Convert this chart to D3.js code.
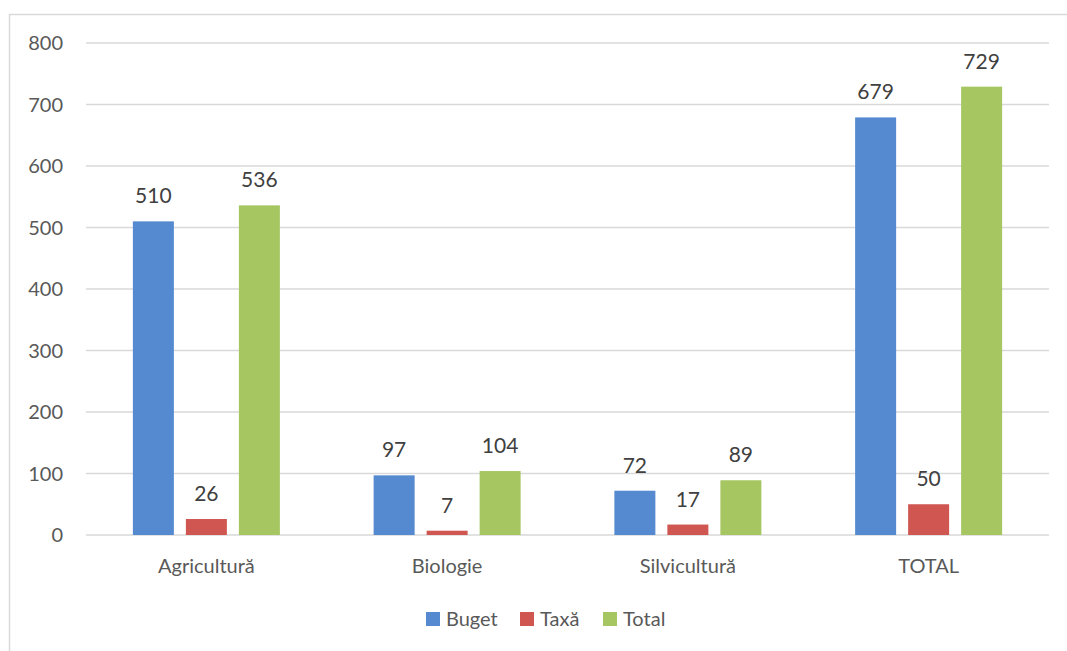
<!DOCTYPE html>
<html>
<head>
<meta charset="utf-8">
<script src="https://cdn.jsdelivr.net/npm/d3@7"></script>
<style>
  body { margin: 0; background: #fff; }
  text { font-family: Lato, "Open Sans", sans-serif; }
</style>
</head>
<body>
<script>
var categories = ["Agricultură", "Biologie", "Silvicultură", "TOTAL"];
var seriesNames = ["Buget", "Taxă", "Total"];
var buget = [510, 97, 72, 679];
var taxa = [26, 7, 17, 50];
var total = [536, 104, 89, 729];
var yTicks = [0, 100, 200, 300, 400, 500, 600, 700, 800];
var colors = ["#558ad0", "#d05652", "#a6c662"];

var svgWidth = 1067;
var svgHeight = 651;
var margin = {top: 43, left: 86, right: 18};
var plotBottom = 535;

var svg = d3.select("body")
  .append("svg")
  .attr("width", svgWidth)
  .attr("height", svgHeight);

// chart frame (top + left edges visible, rest cropped)
svg.append("path")
  .attr("d", "M9.5,660 L9.5,14.5 L1070,14.5")
  .attr("fill", "none")
  .attr("stroke", "#d9d9d9")
  .attr("stroke-width", 1.5);

var x0 = d3.scaleBand()
  .domain(categories)
  .range([margin.left, 1049])
  .padding(0);

var groupW = 147;
var x1 = d3.scaleBand()
  .domain(seriesNames)
  .range([0, groupW])
  .paddingInner(12 / 53);

var y = d3.scaleLinear()
  .domain([0, 800])
  .range([plotBottom, margin.top]);

// gridlines
svg.append("g").selectAll("line")
  .data(yTicks)
  .enter()
  .append("line")
  .attr("x1", margin.left)
  .attr("x2", 1049)
  .attr("y1", d => y(d))
  .attr("y2", d => y(d))
  .attr("stroke", "#d9d9d9")
  .attr("stroke-width", 1.5);

// y tick labels
svg.append("g").selectAll("text")
  .data(yTicks)
  .enter()
  .append("text")
  .attr("x", 63)
  .attr("y", d => y(d))
  .attr("dy", "0.36em")
  .attr("text-anchor", "end")
  .attr("fill", "#595959")
  .style("font-size", "20px")
  .text(d => d);

var rows = categories.map(function(c, i) {
  return {cat: c, vals: [buget[i], taxa[i], total[i]]};
});

var groups = svg.selectAll(".grp")
  .data(rows)
  .enter()
  .append("g")
  .attr("class", "grp")
  .attr("transform", d => `translate(${x0(d.cat) + (x0.bandwidth() - groupW) / 2},0)`);

var cells = groups.selectAll(".bar")
  .data(d => d.vals.map((v, j) => ({name: seriesNames[j], v: v, j: j})))
  .enter();

cells.append("rect")
  .attr("x", d => x1(d.name))
  .attr("y", d => y(d.v))
  .attr("width", x1.bandwidth())
  .attr("height", d => plotBottom - y(d.v))
  .attr("fill", d => colors[d.j]);

cells.append("text")
  .attr("x", d => x1(d.name) + x1.bandwidth() / 2)
  .attr("y", d => y(d.v) - 18)
  .attr("text-anchor", "middle")
  .attr("fill", "#404040")
  .style("font-size", "21px")
  .text(d => d.v);

// category labels
svg.append("g").selectAll("text")
  .data(categories)
  .enter()
  .append("text")
  .attr("x", d => x0(d) + x0.bandwidth() / 2)
  .attr("y", 573)
  .attr("text-anchor", "middle")
  .attr("fill", "#595959")
  .style("font-size", "20px")
  .text(d => d);

// legend
var legendX = [426, 520, 603];
var legend = svg.append("g").selectAll("g")
  .data(seriesNames)
  .enter()
  .append("g")
  .attr("transform", (d, i) => `translate(${legendX[i]},612)`);
legend.append("rect")
  .attr("width", 14)
  .attr("height", 14)
  .attr("fill", (d, i) => colors[i]);
legend.append("text")
  .attr("x", 20)
  .attr("y", 7)
  .attr("dy", "0.36em")
  .attr("fill", "#595959")
  .style("font-size", "20px")
  .text(d => d);
</script>
</body>
</html>
